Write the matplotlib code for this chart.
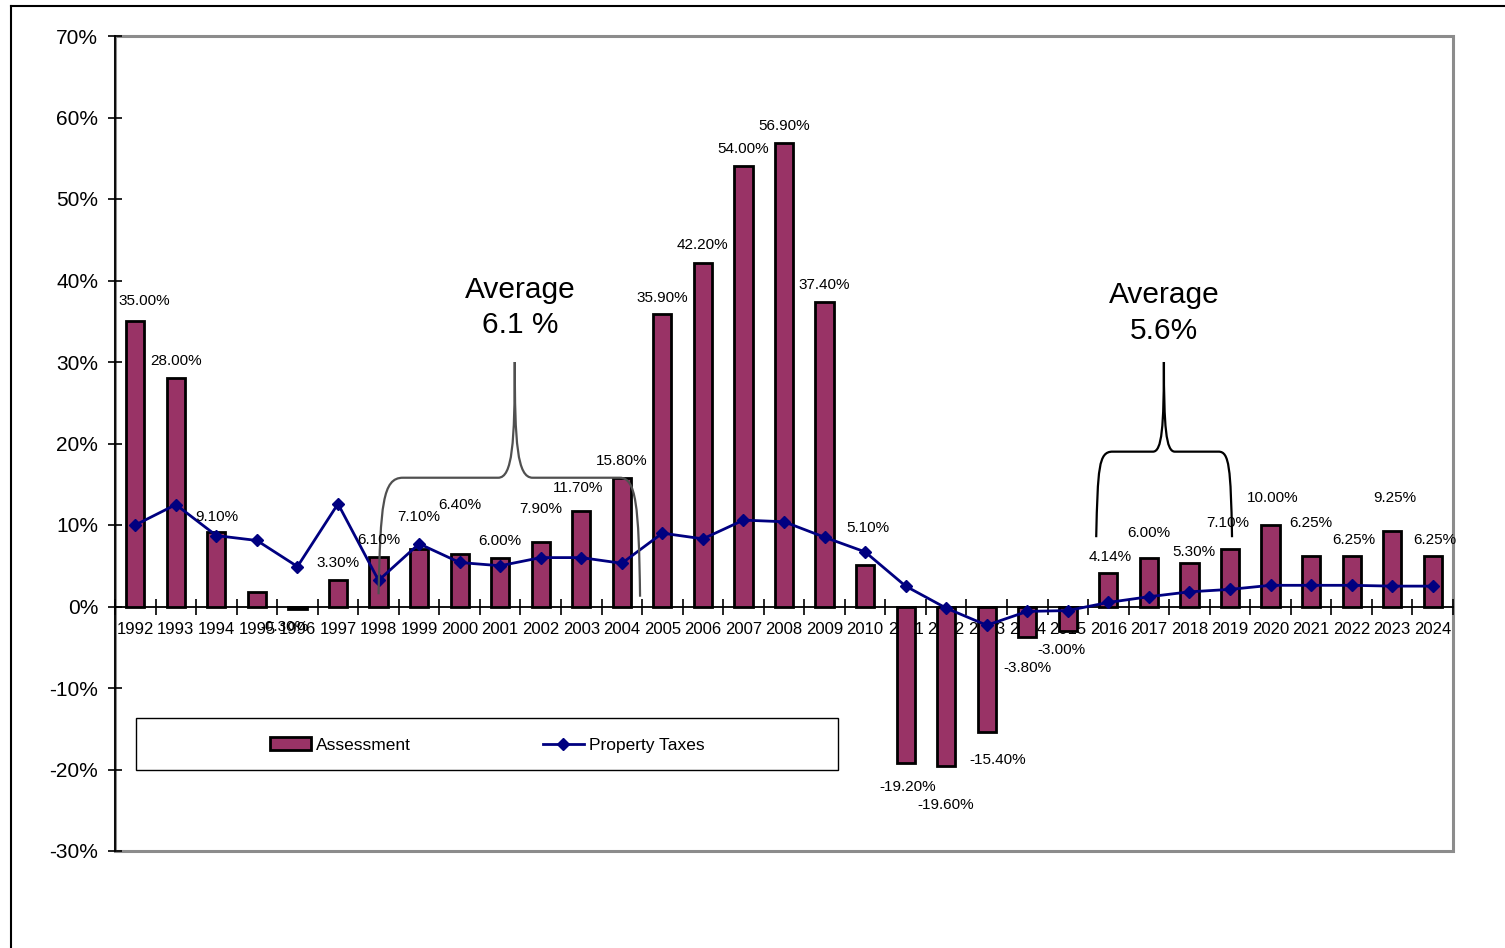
import matplotlib
matplotlib.use("Agg")
import matplotlib.pyplot as plt
from matplotlib.path import Path
from matplotlib.patches import PathPatch, Rectangle
from matplotlib.lines import Line2D
from matplotlib.ticker import PercentFormatter, FixedLocator, NullFormatter, FixedFormatter
import numpy as np

plt.rcParams['font.family'] = ['Liberation Sans', 'DejaVu Sans']
plt.rcParams['axes.unicode_minus'] = False

years = [str(y) for y in range(1992, 2025)]
assessment = [35.0, 28.0, 9.1, 1.8, -0.3, 3.3, 6.1, 7.1, 6.4, 6.0, 7.9, 11.7, 15.8,
              35.9, 42.2, 54.0, 56.9, 37.4, 5.1, -19.2, -19.6, -15.4, -3.8, -3.0,
              4.14, 6.0, 5.3, 7.1, 10.0, 6.25, 6.25, 9.25, 6.25]
property_taxes = [10.0, 12.5, 8.7, 8.1, 4.9, 12.6, 3.2, 7.7, 5.4, 5.0, 6.0, 6.0, 5.3,
                  9.0, 8.3, 10.6, 10.4, 8.5, 6.7, 2.5, -0.2, -2.3, -0.6, -0.5,
                  0.5, 1.2, 1.8, 2.1, 2.6, 2.6, 2.6, 2.5, 2.5]
# which assessment values carry a data label (1995 label hidden in the original)
show_label = [True] * len(years)
show_label[3] = False

# label placement (category offset, y position in %)
label_dx = [0.22, 0, 0, 0, -0.33, 0, 0, 0, 0, 0, 0, -0.07, 0,
            0, 0, 0, 0, 0, 0.07, 0.06, 0, 0.27, 0, -0.15,
            0.05, 0, 0.1, -0.05, 0.05, 0, 0.06, 0.07, 0.05]
label_y = [37.5, 30.1, 11.0, 0, -2.5, 5.3, 8.1, 11.0, 12.4, 8.0, 12.0, 14.5, 17.8,
           37.9, 44.3, 56.1, 59.0, 39.5, 9.6, -22.1, -24.4, -18.8, -7.5, -5.3,
           6.1, 9.0, 6.7, 10.3, 13.3, 10.2, 8.2, 13.3, 8.2]

W, H = 1505, 948
fig = plt.figure(figsize=(W / 100, H / 100), dpi=100)
ax = fig.add_axes([115 / W, 1 - 851 / H, (1453 - 115) / W, (851 - 36) / H])

x = np.arange(len(years))
bars = ax.bar(x, assessment, width=0.45, color='#993366', edgecolor='black', linewidth=2,
              label='Assessment', zorder=2)
line, = ax.plot(x, property_taxes, color='#000080', linewidth=2, marker='D', markersize=6.5,
                label='Property Taxes', zorder=3)

for i, v in enumerate(assessment):
    if show_label[i]:
        ax.text(i + label_dx[i], label_y[i], f"{v:.2f}%", ha='center', va='center',
                fontsize=11, color='black', zorder=4)

ax.set_xlim(-0.5, len(years) - 0.5)
ax.set_ylim(-30, 70)
ax.set_yticks(np.arange(-30, 71, 10))
ax.yaxis.set_major_formatter(PercentFormatter(decimals=0))
ax.tick_params(axis='y', direction='inout', length=10, width=1.2, labelsize=15, pad=7)

ax.xaxis.set_major_locator(FixedLocator(np.arange(-0.5, len(years), 1.0)))
ax.xaxis.set_major_formatter(NullFormatter())
ax.xaxis.set_minor_locator(FixedLocator(x))
ax.xaxis.set_minor_formatter(FixedFormatter(years))
ax.tick_params(axis='x', which='major', direction='inout', length=11, width=1.2)
ax.tick_params(axis='x', which='minor', length=0, labelsize=12, pad=11)

for s in ['top', 'right']:
    ax.spines[s].set_visible(False)
ax.spines['left'].set_linewidth(1.3)
ax.spines['bottom'].set_position(('data', 0))
ax.spines['bottom'].set_linewidth(1.3)
ax.spines['bottom'].set_zorder(1)

# gray plot-area border
ax.add_patch(Rectangle((0, 0), 1, 1, transform=ax.transAxes, fill=False,
                       edgecolor='#8c8c8c', linewidth=2.2, zorder=0, clip_on=False))
ax.spines['left'].set_zorder(5)

# braces
C = Path.CURVE4
L = Path.LINETO
M = Path.MOVETO
left_brace = [
    ((6.0, 1.5), M), ((6.05, 12.5), C), ((6.1, 15.8), C), ((6.6, 15.8), C),
    ((8.95, 15.8), L), ((9.3, 15.8), C), ((9.36, 20.0), C), ((9.36, 30.0), C),
    ((9.36, 20.0), C), ((9.42, 15.8), C), ((9.8, 15.8), C),
    ((11.95, 15.8), L), ((12.35, 15.8), C), ((12.42, 12.5), C), ((12.45, 1.2), C),
]
right_brace = [
    ((23.7, 8.5), M), ((23.74, 17.0), C), ((23.76, 19.0), C), ((24.1, 19.0), C),
    ((25.1, 19.0), L), ((25.32, 19.0), C), ((25.37, 22.0), C), ((25.37, 30.0), C),
    ((25.37, 22.0), C), ((25.42, 19.0), C), ((25.64, 19.0), C),
    ((26.72, 19.0), L), ((26.98, 19.0), C), ((27.02, 17.0), C), ((27.05, 8.5), C),
]
for pts, col in [(left_brace, '#505050'), (right_brace, 'black')]:
    verts = [p for p, _ in pts]
    codes = [c for _, c in pts]
    ax.add_patch(PathPatch(Path(verts, codes), fill=False, edgecolor=col,
                           linewidth=1.6, zorder=3))

ax.text(9.49, 36.7, "Average\n6.1 %", ha='center', va='center', fontsize=21.5,
        linespacing=1.35)
ax.text(25.37, 36.0, "Average\n5.6%", ha='center', va='center', fontsize=21.5,
        linespacing=1.35)

# legend box
ax.add_patch(Rectangle((21 / 1338, 81 / 815), 702 / 1338, 52 / 815, transform=ax.transAxes,
                       facecolor='white', edgecolor='black', linewidth=1.0, zorder=5))
leg = ax.legend([bars, line], ['Assessment', 'Property Taxes'],
                loc='center left', bbox_to_anchor=(155 / 1338, 106 / 815),
                ncol=2, frameon=False, fontsize=12.5,
                handlelength=2.36, handleheight=0.7, handletextpad=0.3,
                columnspacing=7.6, borderaxespad=0, borderpad=0)
leg.set_zorder(6)

# outer frame
fig.add_artist(Line2D([11 / W, 11 / W], [0, 1 - 6 / H], transform=fig.transFigure,
                      color='black', linewidth=1.5))
fig.add_artist(Line2D([11 / W, 1], [1 - 6 / H, 1 - 6 / H], transform=fig.transFigure,
                      color='black', linewidth=1.5))

fig.savefig("out.png", dpi=100)
